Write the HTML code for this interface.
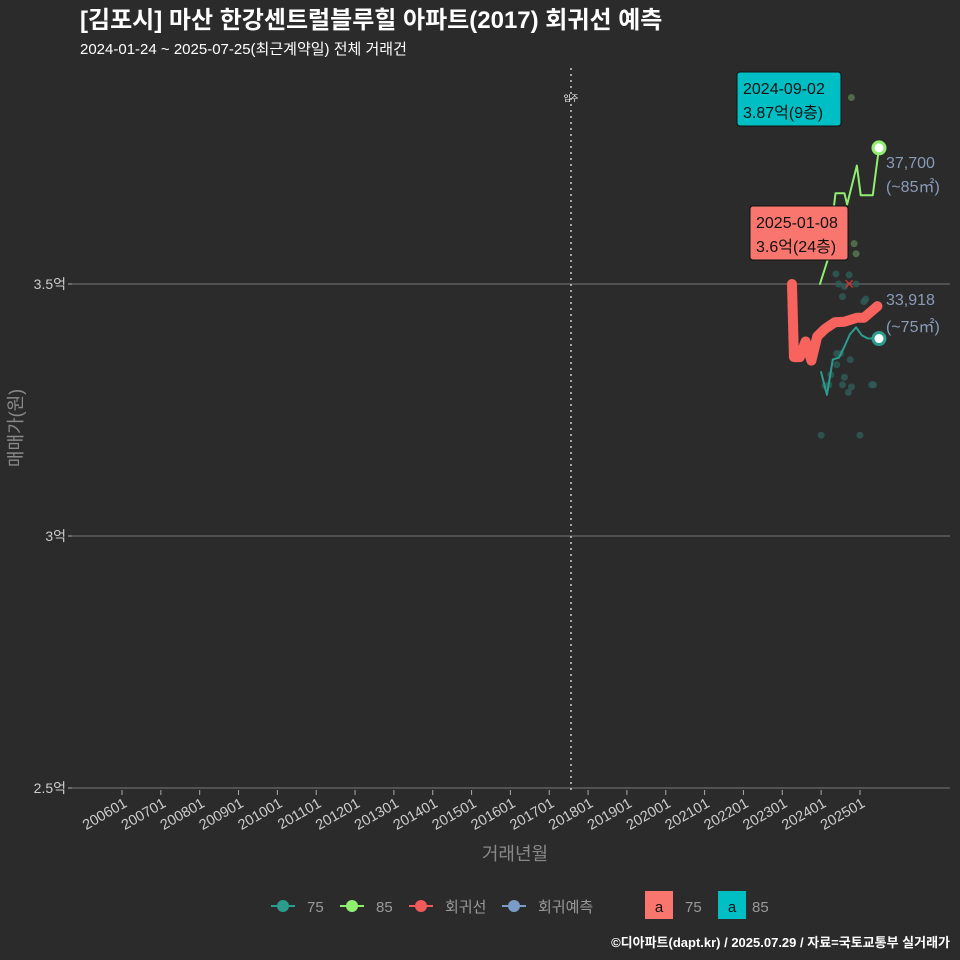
<!DOCTYPE html>
<html><head><meta charset="utf-8"><style>
body{margin:0;background:#2b2b2c;}
svg{display:block;font-family:"Liberation Sans","Noto Sans CJK KR",sans-serif;}
</style></head><body>
<svg id="c" width="960" height="960" xmlns="http://www.w3.org/2000/svg">
<rect width="960" height="960" fill="#2b2b2c"/>
<text x="80" y="28" font-size="24" font-weight="bold" fill="#ffffff">[김포시] 마산 한강센트럴블루힐 아파트(2017) 회귀선 예측</text>
<text x="80" y="54" font-size="15" fill="#ffffff">2024-01-24 ~ 2025-07-25(최근계약일) 전체 거래건</text>
<g id="grid"></g><g id="axes"></g><g id="marks"></g>
<text transform="translate(22,428) rotate(-90)" text-anchor="middle" font-size="18" fill="#888">매매가(원)</text>
<text x="515" y="860" text-anchor="middle" font-size="18" fill="#888">거래년월</text>
<g font-size="15" fill="#999">
 <g><line x1="271" y1="906" x2="295" y2="906" stroke="#2a9d8f" stroke-width="2"/><circle cx="283" cy="906" r="6" fill="#2a9d8f"/><text x="307" y="912">75</text></g>
 <g><line x1="340" y1="906" x2="364" y2="906" stroke="#90ee70" stroke-width="2"/><circle cx="352" cy="906" r="6" fill="#90ee70"/><text x="376" y="912">85</text></g>
 <g><line x1="409" y1="906" x2="433" y2="906" stroke="#f15a5a" stroke-width="2"/><circle cx="421" cy="906" r="6" fill="#f15a5a"/><text x="445" y="912">회귀선</text></g>
 <g><line x1="502" y1="906" x2="526" y2="906" stroke="#7a9cc6" stroke-width="2"/><circle cx="514" cy="906" r="6" fill="#7a9cc6"/><text x="538" y="912">회귀예측</text></g>
 <g><rect x="645" y="891" width="28" height="28" fill="#f8766d"/><text x="659" y="912" text-anchor="middle" fill="#111">a</text><text x="685" y="912">75</text></g>
 <g><rect x="718" y="891" width="28" height="28" fill="#00bfc4"/><text x="732" y="912" text-anchor="middle" fill="#111">a</text><text x="752" y="912">85</text></g>
</g>
<text x="950" y="947" text-anchor="end" font-size="13" font-weight="bold" fill="#fff">©디아파트(dapt.kr) / 2025.07.29 / 자료=국토교통부 실거래가</text>
</svg>
<script>
const yTicks=[25000,30000,35000];
const yTickLabels=["2.5억","3억","3.5억"];
const xTickYears=[2006,2007,2008,2009,2010,2011,2012,2013,2014,2015,2016,2017,2018,2019,2020,2021,2022,2023,2024,2025];
const moveInYear=2017.56;
const s75t=[2024.0,2024.15,2024.3,2024.46,2024.59,2024.74,2024.9,2025.05,2025.2,2025.49];
const s75v=[33250,32800,33500,33540,33740,34000,34140,33980,33920,33918];
const s85t=[2023.97,2024.17,2024.37,2024.6,2024.67,2024.92,2025.02,2025.33,2025.49];
const s85v=[35000,35480,36800,36800,36580,37350,36760,36760,37700];
const regT=[2023.25,2023.3,2023.45,2023.6,2023.75,2023.9,2024.1,2024.35,2024.6,2024.92,2025.1,2025.3,2025.45];
const regV=[35000,33550,33550,33860,33480,33960,34110,34240,34250,34330,34330,34460,34560];
const ptT=[2024.0,2024.1,2024.2,2024.4,2024.5,2024.55,2024.6,2024.7,2024.78,2024.85,2024.9,2025.1,2025.15,2024.38,2024.45,2024.6,2024.72,2024.78,2024.9,2025.0,2025.3,2025.35,2024.55,2024.4,2024.25,2024.75];
const ptV=[32000,32980,33000,33620,33620,33000,33150,32850,32960,35800,35600,34650,34700,35200,35000,34950,35180,38700,35000,32000,33000,33000,34750,33400,33200,33500];
const X=t=>122+(t-2006)*38.84;
const Y=v=>284-(v-35000)*0.0504;
const NS="http://www.w3.org/2000/svg";
function mk(tag,attrs,parent,text){const e=document.createElementNS(NS,tag);for(const k in attrs)e.setAttribute(k,attrs[k]);if(text!==undefined)e.textContent=text;document.getElementById(parent).appendChild(e);return e;}
yTicks.forEach((v,i)=>{
 const g=mk('line',{x1:72,x2:950,y1:Y(v),y2:Y(v),stroke:'#777','stroke-width':1},'grid');
 
 
 const tk=mk('line',{x1:68,x2:72,y1:Y(v),y2:Y(v),stroke:'#aaa'},'axes');
 
 
 const t=mk('text',{x:66,y:Y(v)+5,'text-anchor':'end','font-size':14,fill:'#ccc'},'axes',yTickLabels[i]);
 
 
});
xTickYears.forEach(yr=>{
 const x=X(yr);
 const tk=mk('line',{x1:x,x2:x,y1:790,y2:795,stroke:'#aaa'},'axes');
 
 
 const t=mk('text',{x:x+6,y:806,'text-anchor':'end','font-size':14.5,fill:'#ccc',transform:`rotate(-30 ${x+6} 806)`},'axes',yr+'01');
 
 
});
const mv=mk('line',{x1:X(moveInYear),x2:X(moveInYear),y1:68,y2:790,stroke:'#ccc','stroke-dasharray':'2,4','stroke-width':1.5},'grid');


const mvt=mk('text',{x:X(moveInYear),y:101,'text-anchor':'middle','font-size':8,fill:'#fff'},'grid','입주');


ptT.forEach((t,i)=>{
 const c=mk('circle',{cx:X(t),cy:Y(ptV[i]),r:3.5,fill:ptV[i]>35300?'#5a7a50':'#2f5d58',opacity:0.8},'marks');
 
 
});
function line(ts,vs,col,w,name){
 const p=mk('polyline',{points:ts.map((t,i)=>X(t)+','+Y(vs[i])).join(' '),fill:'none',stroke:col,'stroke-width':w,'stroke-linejoin':'round','stroke-linecap':'round'},'marks');
 
 
}
line(regT,regV,'#f8635e',10,'regression-line');
line(s75t,s75v,'#2a9d8f',2,'series-75-line');
line(s85t,s85v,'#90ee70',2,'series-85-line');
const cr=mk('text',{x:X(2024.72),y:Y(35000)+6,'text-anchor':'middle','font-size':18,fill:'#d33'},'marks','×');


[[s75t,s75v,'#2a9d8f','series-75-end'],[s85t,s85v,'#90ee70','series-85-end']].forEach(a=>{
 const n=a[0].length-1;
 const c=mk('circle',{cx:X(a[0][n]),cy:Y(a[1][n]),r:6,fill:'#fff',stroke:a[2],'stroke-width':3},'marks');
 
 
});
const labs=[[886,168,'37,700','end-label-85'],[886,192,'(~85㎡)','end-label-85-area'],[886,305,'33,918','end-label-75'],[886,332,'(~75㎡)','end-label-75-area']];
labs.forEach(l=>{const t=mk('text',{x:l[0],y:l[1],'font-size':16,fill:'#8a9bb8'},'marks',l[2]);
 
 });
function box(x,y,w,col,l1,l2,name){
 const r=mk('rect',{x:x,y:y,width:w,height:54,rx:3,fill:col,stroke:'#111'},'marks');
 
 
 const a=mk('text',{x:x+6,y:y+22,'font-size':16,fill:'#111'},'marks',l1);
 
 
 const b=mk('text',{x:x+6,y:y+46,'font-size':16,fill:'#111'},'marks',l2);
 
 
}
box(737,72,104,'#00bfc4','2024-09-02','3.87억(9층)','max-annotation-85');
box(750,206,98,'#f8766d','2025-01-08','3.6억(24층)','max-annotation-75');
</script>
</body></html>
